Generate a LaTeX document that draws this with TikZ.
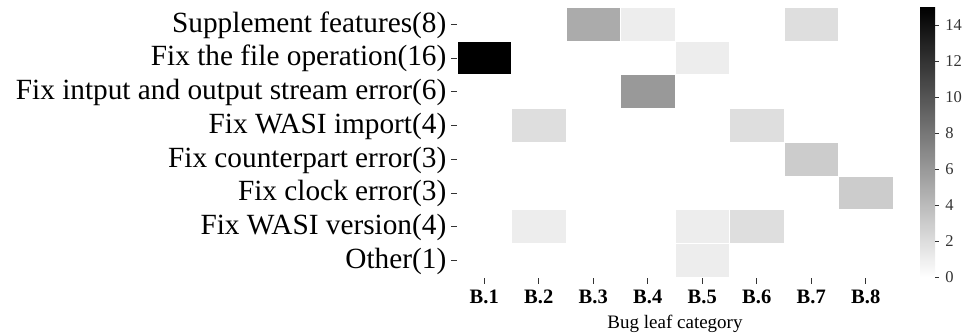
\documentclass[tikz,border=0pt]{standalone}
\usepackage{fontspec}
\setmainfont{Liberation Serif}
\usetikzlibrary{positioning}

\begin{document}
\begin{tikzpicture}[x=1pt, y=-1pt,
    cell/.style={rectangle, draw=white, line width=1pt, minimum width=54.5pt, minimum height=33.8pt, inner sep=0pt},
    rowlabel/.style={anchor=base east, inner sep=0pt, font=\fontsize{29.3}{29.3}\selectfont},
    collabel/.style={anchor=base, inner sep=0pt, font=\fontsize{20.5}{20.5}\selectfont\bfseries},
    barlabel/.style={anchor=west, inner sep=0pt, font=\fontsize{16.5}{16.5}\selectfont},
    tick/.style={line width=0.8pt, black!80}]

      \useasboundingbox (0, 0) rectangle (964, 335);

      % heat cells: column/row/count
      \foreach \c/\r/\v in {3/1/5, 4/1/1, 7/1/2, 1/2/15, 5/2/1, 4/3/6, 2/4/2, 6/4/2, 7/5/3, 8/6/3, 2/7/1, 5/7/1, 6/7/2, 5/8/1} {
        \pgfmathtruncatemacro{\lvl}{round(100*\v/15)}
        \node[cell, fill=black!\lvl] (c\r-\c) at ({457 + 54.5*(\c - 0.5)}, {7.3 + 33.75*(\r - 0.5)}) {};
      }

      \foreach \txt [count=\r] in {Supplement features(8), Fix the file operation(16), Fix intput and output stream error(6), Fix WASI import(4), Fix counterpart error(3), Fix clock error(3), Fix WASI version(4), Other(1)} {
        \node[rowlabel] (lbl\r) at (446.5, {7.3 + 33.75*(\r - 0.5) + 8}) {\txt};
        \draw[tick] (451, {7.3 + 33.75*(\r - 0.5)}) -- (457, {7.3 + 33.75*(\r - 0.5)});
      }

      \foreach \c in {1, ..., 8} {
        \node[collabel] (col\c) at ({457 + 54.5*(\c - 0.5)}, 303.3) {B.\c};
        \draw[tick] ({457 + 54.5*(\c - 0.5)}, 278) -- ({457 + 54.5*(\c - 0.5)}, 283.5);
      }
      \node[anchor=base, inner sep=0pt, font=\fontsize{19}{19}\selectfont] (xlabel) at (675, 328) {Bug leaf category};

      % colour bar
      \shade[top color=black, bottom color=white] (920, 7.3) rectangle (935, 277.3);
      \foreach \v in {0, 2, ..., 14} {
        \draw[tick] (935, {277.3 - 18.0*\v}) -- ++(4, 0) node[barlabel, xshift=6pt] (bar\v) {\v};
      }

    \end{tikzpicture}
\end{document}
